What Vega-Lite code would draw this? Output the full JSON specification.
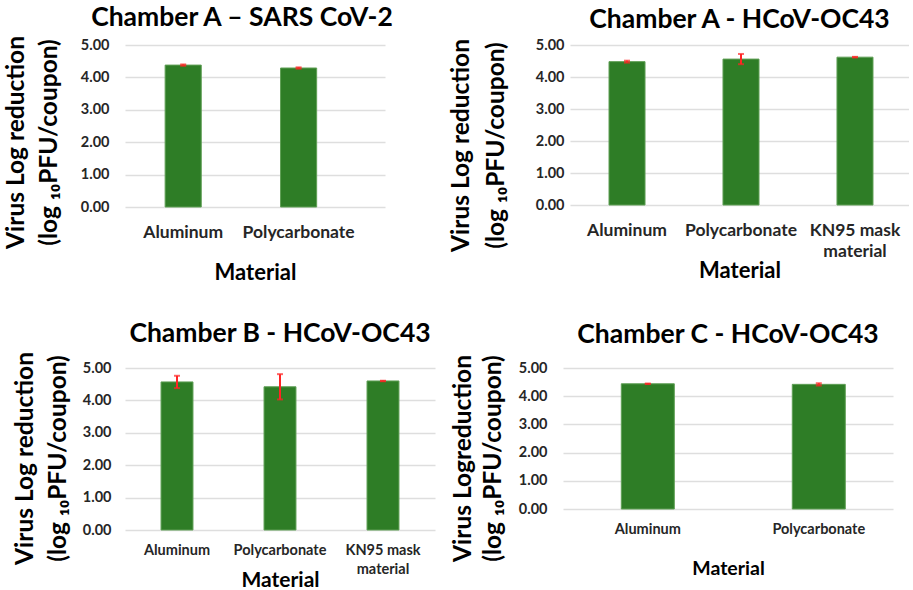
{
  "$schema": "https://vega.github.io/schema/vega-lite/v6.json",
  "padding": {"left": 3, "top": 5, "right": 0, "bottom": 0},
  "background": "white",
  "datasets": {
    "p1": [
      {"material": "Aluminum", "value": 4.38, "err": 0.02},
      {"material": "Polycarbonate", "value": 4.29, "err": 0.02}
    ],
    "p2": [
      {"material": "Aluminum", "value": 4.48, "err": 0.03},
      {"material": "Polycarbonate", "value": 4.56, "err": 0.16},
      {"material": "KN95 mask material", "value": 4.62, "err": 0.01}
    ],
    "p3": [
      {"material": "Aluminum", "value": 4.57, "err": 0.19},
      {"material": "Polycarbonate", "value": 4.42, "err": 0.39},
      {"material": "KN95 mask material", "value": 4.6, "err": 0.01}
    ],
    "p4": [
      {"material": "Aluminum", "value": 4.44, "err": 0.01},
      {"material": "Polycarbonate", "value": 4.42, "err": 0.04}
    ]
  },
  "vconcat": [
    {
      "hconcat": [
        {
          "width": 260,
          "height": 162,
          "title": {"text": "Chamber A – SARS CoV-2", "dx": -13, "offset": 4},
          "data": {"name": "p1"},
          "encoding": {
            "x": {"field": "material", "type": "nominal", "sort": null,
              "scale": {"paddingInner": 0.687, "paddingOuter": 0.47, "align": 0.37},
              "axis": {"title": "Material", "labelAngle": 0, "labelFontSize": 17.5, "titleFontSize": 22, "labelPadding": 16.5, "titlePadding": 21.5}},
            "y": {"field": "value", "type": "quantitative", "scale": {"domain": [0, 5]},
              "axis": {"title": ["Virus Log reduction", "(log ₁₀PFU/coupon)"], "titleY": 97, "values": [0, 1, 2, 3, 4, 5], "format": ".2f", "grid": true, "labelPadding": 16, "titlePadding": 19, "titleLineHeight": 33}}
          },
          "layer": [
            {"mark": {"type": "bar", "color": "#2e7d26", "stroke": "#5f9f55", "strokeWidth": 1}},
            {"mark": {"type": "errorbar", "color": "#ff2424", "thickness": 2, "ticks": {"size": 6}}, "encoding": {"yError": {"field": "err"}}}
          ]
        },
        {
          "width": 339,
          "height": 160,
          "title": {"text": "Chamber A - HCoV-OC43", "offset": 4},
          "data": {"name": "p2"},
          "encoding": {
            "x": {"field": "material", "type": "nominal", "sort": null,
              "scale": {"paddingInner": 0.684, "paddingOuter": 0.329, "align": 0.52},
              "axis": {"title": "Material", "labelAngle": 0, "labelFontSize": 17.5, "titleFontSize": 22, "labelPadding": 16.5, "titlePadding": 0, "labelLineHeight": 21,
                "labelExpr": "datum.label == 'KN95 mask material' ? ['KN95 mask', 'material'] : datum.label"}},
            "y": {"field": "value", "type": "quantitative", "scale": {"domain": [0, 5]},
              "axis": {"title": ["Virus Log reduction", "(log ₁₀PFU/coupon)"], "titleY": 100, "values": [0, 1, 2, 3, 4, 5], "format": ".2f", "grid": true, "labelPadding": 6, "titlePadding": 27, "titleLineHeight": 35}}
          },
          "layer": [
            {"mark": {"type": "bar", "color": "#2e7d26", "stroke": "#5f9f55", "strokeWidth": 1}},
            {"mark": {"type": "errorbar", "color": "#ff2424", "thickness": 2, "ticks": {"size": 6}}, "encoding": {"yError": {"field": "err"}}}
          ]
        }
      ],
      "spacing": 53
    },
    {
      "hconcat": [
        {
          "width": 310,
          "height": 162,
          "title": {"text": "Chamber B - HCoV-OC43", "offset": 4},
          "data": {"name": "p3"},
          "encoding": {
            "x": {"field": "material", "type": "nominal", "sort": null,
              "scale": {"paddingInner": 0.69, "paddingOuter": 0.35, "align": 0.5},
              "axis": {"title": "Material", "labelAngle": 0, "titleFontSize": 21, "labelPadding": 13, "titlePadding": -6, "labelLineHeight": 19,
                "labelExpr": "datum.label == 'KN95 mask material' ? ['KN95 mask', 'material'] : datum.label"}},
            "y": {"field": "value", "type": "quantitative", "scale": {"domain": [0, 5]},
              "axis": {"title": ["Virus Log reduction", "(log ₁₀PFU/coupon)"], "titleY": 90, "values": [0, 1, 2, 3, 4, 5], "format": ".2f", "grid": true, "labelPadding": 14, "titlePadding": 12, "titleLineHeight": 33}}
          },
          "layer": [
            {"mark": {"type": "bar", "color": "#2e7d26", "stroke": "#5f9f55", "strokeWidth": 1}},
            {"mark": {"type": "errorbar", "color": "#ff2424", "thickness": 2, "ticks": {"size": 6}}, "encoding": {"yError": {"field": "err"}}}
          ]
        },
        {
          "width": 330,
          "height": 141,
          "title": {"text": "Chamber C - HCoV-OC43", "offset": 6},
          "data": {"name": "p4"},
          "encoding": {
            "x": {"field": "material", "type": "nominal", "sort": null,
              "scale": {"paddingInner": 0.69, "paddingOuter": 0.31, "align": 0.55},
              "axis": {"title": "Material", "labelAngle": 0, "titleFontSize": 19.5, "labelPadding": 13, "titlePadding": 24}},
            "y": {"field": "value", "type": "quantitative", "scale": {"domain": [0, 5]},
              "axis": {"title": ["Virus Logreduction", "(log ₁₀PFU/coupon)"], "titleY": 90, "values": [0, 1, 2, 3, 4, 5], "format": ".2f", "grid": true, "labelPadding": 16, "titlePadding": 13, "titleLineHeight": 30}}
          },
          "layer": [
            {"mark": {"type": "bar", "color": "#2e7d26", "stroke": "#5f9f55", "strokeWidth": 1}},
            {"mark": {"type": "errorbar", "color": "#ff2424", "thickness": 2, "ticks": {"size": 6}}, "encoding": {"yError": {"field": "err"}}}
          ]
        }
      ],
      "spacing": 15
    }
  ],
  "spacing": 37,
  "config": {
    "view": {"stroke": null},
    "font": "Lato",
    "title": {"font": "Lato", "fontSize": 26.5, "fontWeight": "bold", "color": "#000000", "anchor": "middle", "frame": "group"},
    "axis": {
      "labelFont": "Lato", "labelFontWeight": "bold", "labelFontSize": 14.5, "labelColor": "#262626",
      "titleFont": "Lato", "titleFontWeight": "bold", "titleColor": "#000000",
      "domain": false, "ticks": false, "gridColor": "#dedede", "gridWidth": 1.5
    },
    "axisX": {"grid": false},
    "axisY": {"titleFontSize": 24.5}
  }
}
